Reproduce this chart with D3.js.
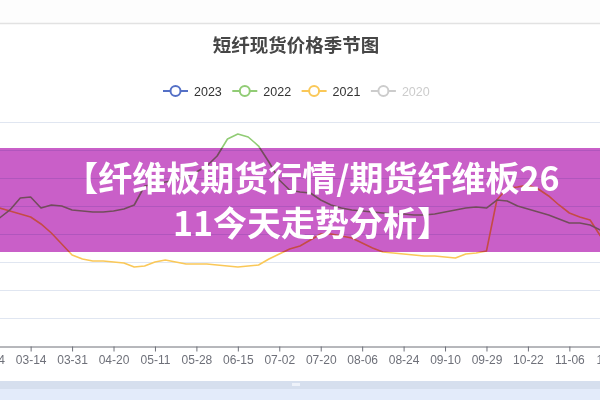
<!DOCTYPE html>
<html><head><meta charset="utf-8">
<script src="https://cdn.jsdelivr.net/npm/d3@7"></script>
<style>
body{margin:0;background:#fff;overflow:hidden;}
svg{display:block;font-family:"Liberation Sans",Arial,sans-serif;}
</style></head><body>
<svg id="c" width="600" height="400"></svg>
<script>
const title = "短纤现货价格季节图";
const xTickLabels = ["02-24","03-14","03-31","04-20","05-11","05-28","06-15","07-02","07-20","08-06","08-24","09-10","09-29","10-22","11-06","11-24"];
const yTicks = [5000,5500,6000,6500,7000,7500,8000,8500,9000];
const legendNames = ["2023","2022","2021","2020"];
const legendColors = ["#5470c6","#91cc75","#fac858","#cccccc"];
const legendActive = [true,true,true,false];
const bannerLines = ["【纤维板期货行情/期货纤维板26","11今天走势分析】"];
// values sampled every quarter of a tick interval, starting at the first tick label
const values2023 = [];
const values2022 = [7250,7286,7429,7643,7661,7464,7518,7500,7429,7411,7393,7393,7411,7446,7518,7857,7893,7929,7964,8036,8107,8214,8393,8696,8786,8732,8571,8286,7964,7786,7750,7732,7607,7518,7464,7429,7411,7393,7375,7357,7357,7339,7339,7357,7393,7429,7464,7482,7464,7607,7589,7500,7446,7393,7339,7268,7196,7196,7161,7071,6964];
const values2021 = [7429,7464,7411,7357,7304,7179,7018,6821,6625,6554,6518,6518,6500,6482,6411,6429,6500,6536,6500,6464,6464,6464,6446,6429,6411,6429,6446,6554,6643,6732,6786,6893,7000,7000,6964,6929,6839,6750,6679,6661,6643,6625,6607,6607,6589,6571,6643,6661,6696,7607,7821,7839,7875,7804,7679,7518,7375,7304,7250,6964,6804];
const step = 0.25;

const svg = d3.select("#c");
const W = 600;
const x = d3.scaleLinear().domain([0, xTickLabels.length - 1]).range([-10.8, 610.8]);
const y = d3.scaleLinear().domain([d3.min(yTicks), d3.max(yTicks)]).range([346, 122]);

// top page separator
svg.append("rect").attr("x",0).attr("y",0).attr("width",W).attr("height",23).attr("fill","#fdfdfd");
svg.append("line").attr("x1",0).attr("x2",W).attr("y1",23.5).attr("y2",23.5).attr("stroke","#e2e2e2").attr("stroke-width",1.5);

// title
svg.append("text").attr("x",296).attr("y",52).attr("text-anchor","middle")
  .attr("font-size",18.5).attr("font-weight","bold").attr("fill","#464646")
  .attr("font-family","'Noto Sans CJK SC',sans-serif").text(title);

// legend
const lg = svg.append("g");
legendNames.forEach((n,i)=>{
  const gx = 163 + i*69.3, gy = 91;
  const col = legendActive[i] ? legendColors[i] : "#cccccc";
  const g = lg.append("g").attr("transform",`translate(${gx},${gy})`);
  g.append("line").attr("x1",0).attr("x2",25).attr("y1",0).attr("y2",0).attr("stroke",col).attr("stroke-width",2);
  g.append("circle").attr("cx",12.5).attr("cy",0).attr("r",5).attr("fill","#fff").attr("stroke",col).attr("stroke-width",2);
  g.append("text").attr("x",31).attr("y",4.5).attr("font-size",12.5)
    .attr("fill",legendActive[i] ? "#333" : "#ccc").text(n);
});

// grid
svg.append("g").selectAll("line").data(yTicks.slice(1)).join("line")
  .attr("x1",0).attr("x2",W).attr("y1",d=>Math.round(y(d))+0.5).attr("y2",d=>Math.round(y(d))+0.5)
  .attr("stroke","#e0e6f1").attr("stroke-width",1);

// x axis
const xAxis = d3.axisBottom(x).tickValues(d3.range(xTickLabels.length))
  .tickFormat(i=>xTickLabels[i]).tickSize(5).tickPadding(4).tickSizeOuter(0);
const ax = svg.append("g").attr("transform","translate(0,346.5)").call(xAxis);
ax.select(".domain").attr("stroke","#6e7079");
ax.selectAll(".tick line").attr("stroke","#6e7079");
ax.selectAll(".tick text").attr("fill","#6e7079").attr("font-size",12).attr("font-family","'Liberation Sans',Arial,sans-serif");

// series
const line = d3.line().defined(d=>d!=null).x((d,i)=>x(i*step)).y(d=>y(d));
const series = [
  {vals: values2021, color: legendColors[2]},
  {vals: values2022, color: legendColors[1]},
  {vals: values2023, color: legendColors[0]}
];
series.forEach(s=>{
  if(!s.vals.length) return;
  svg.append("path").attr("d", line(s.vals)).attr("fill","none")
    .attr("stroke",s.color).attr("stroke-width",1.6).attr("stroke-linejoin","round");
});

// data zoom slider strip
svg.append("rect").attr("x",0).attr("y",381).attr("width",W).attr("height",8).attr("fill","#d6dfee");
svg.append("rect").attr("x",0).attr("y",389).attr("width",W).attr("height",11).attr("fill","#e3ebfa");
svg.append("rect").attr("x",292).attr("y",383).attr("width",8).attr("height",3).attr("fill","#eef2fa");

// banner overlay
svg.append("rect").attr("x",0).attr("y",148).attr("width",W).attr("height",104)
  .attr("fill","#c95fc8").style("mix-blend-mode","multiply");
const bt = svg.append("g").attr("font-family","'Noto Sans CJK SC',sans-serif").attr("font-weight","bold")
  .attr("font-size",34).attr("fill","#fff").attr("text-anchor","middle");
bannerLines.forEach((t,i)=>{
  bt.append("text").attr("x",312).attr("y",191 + i*45).text(t);
});
</script>
</body></html>
